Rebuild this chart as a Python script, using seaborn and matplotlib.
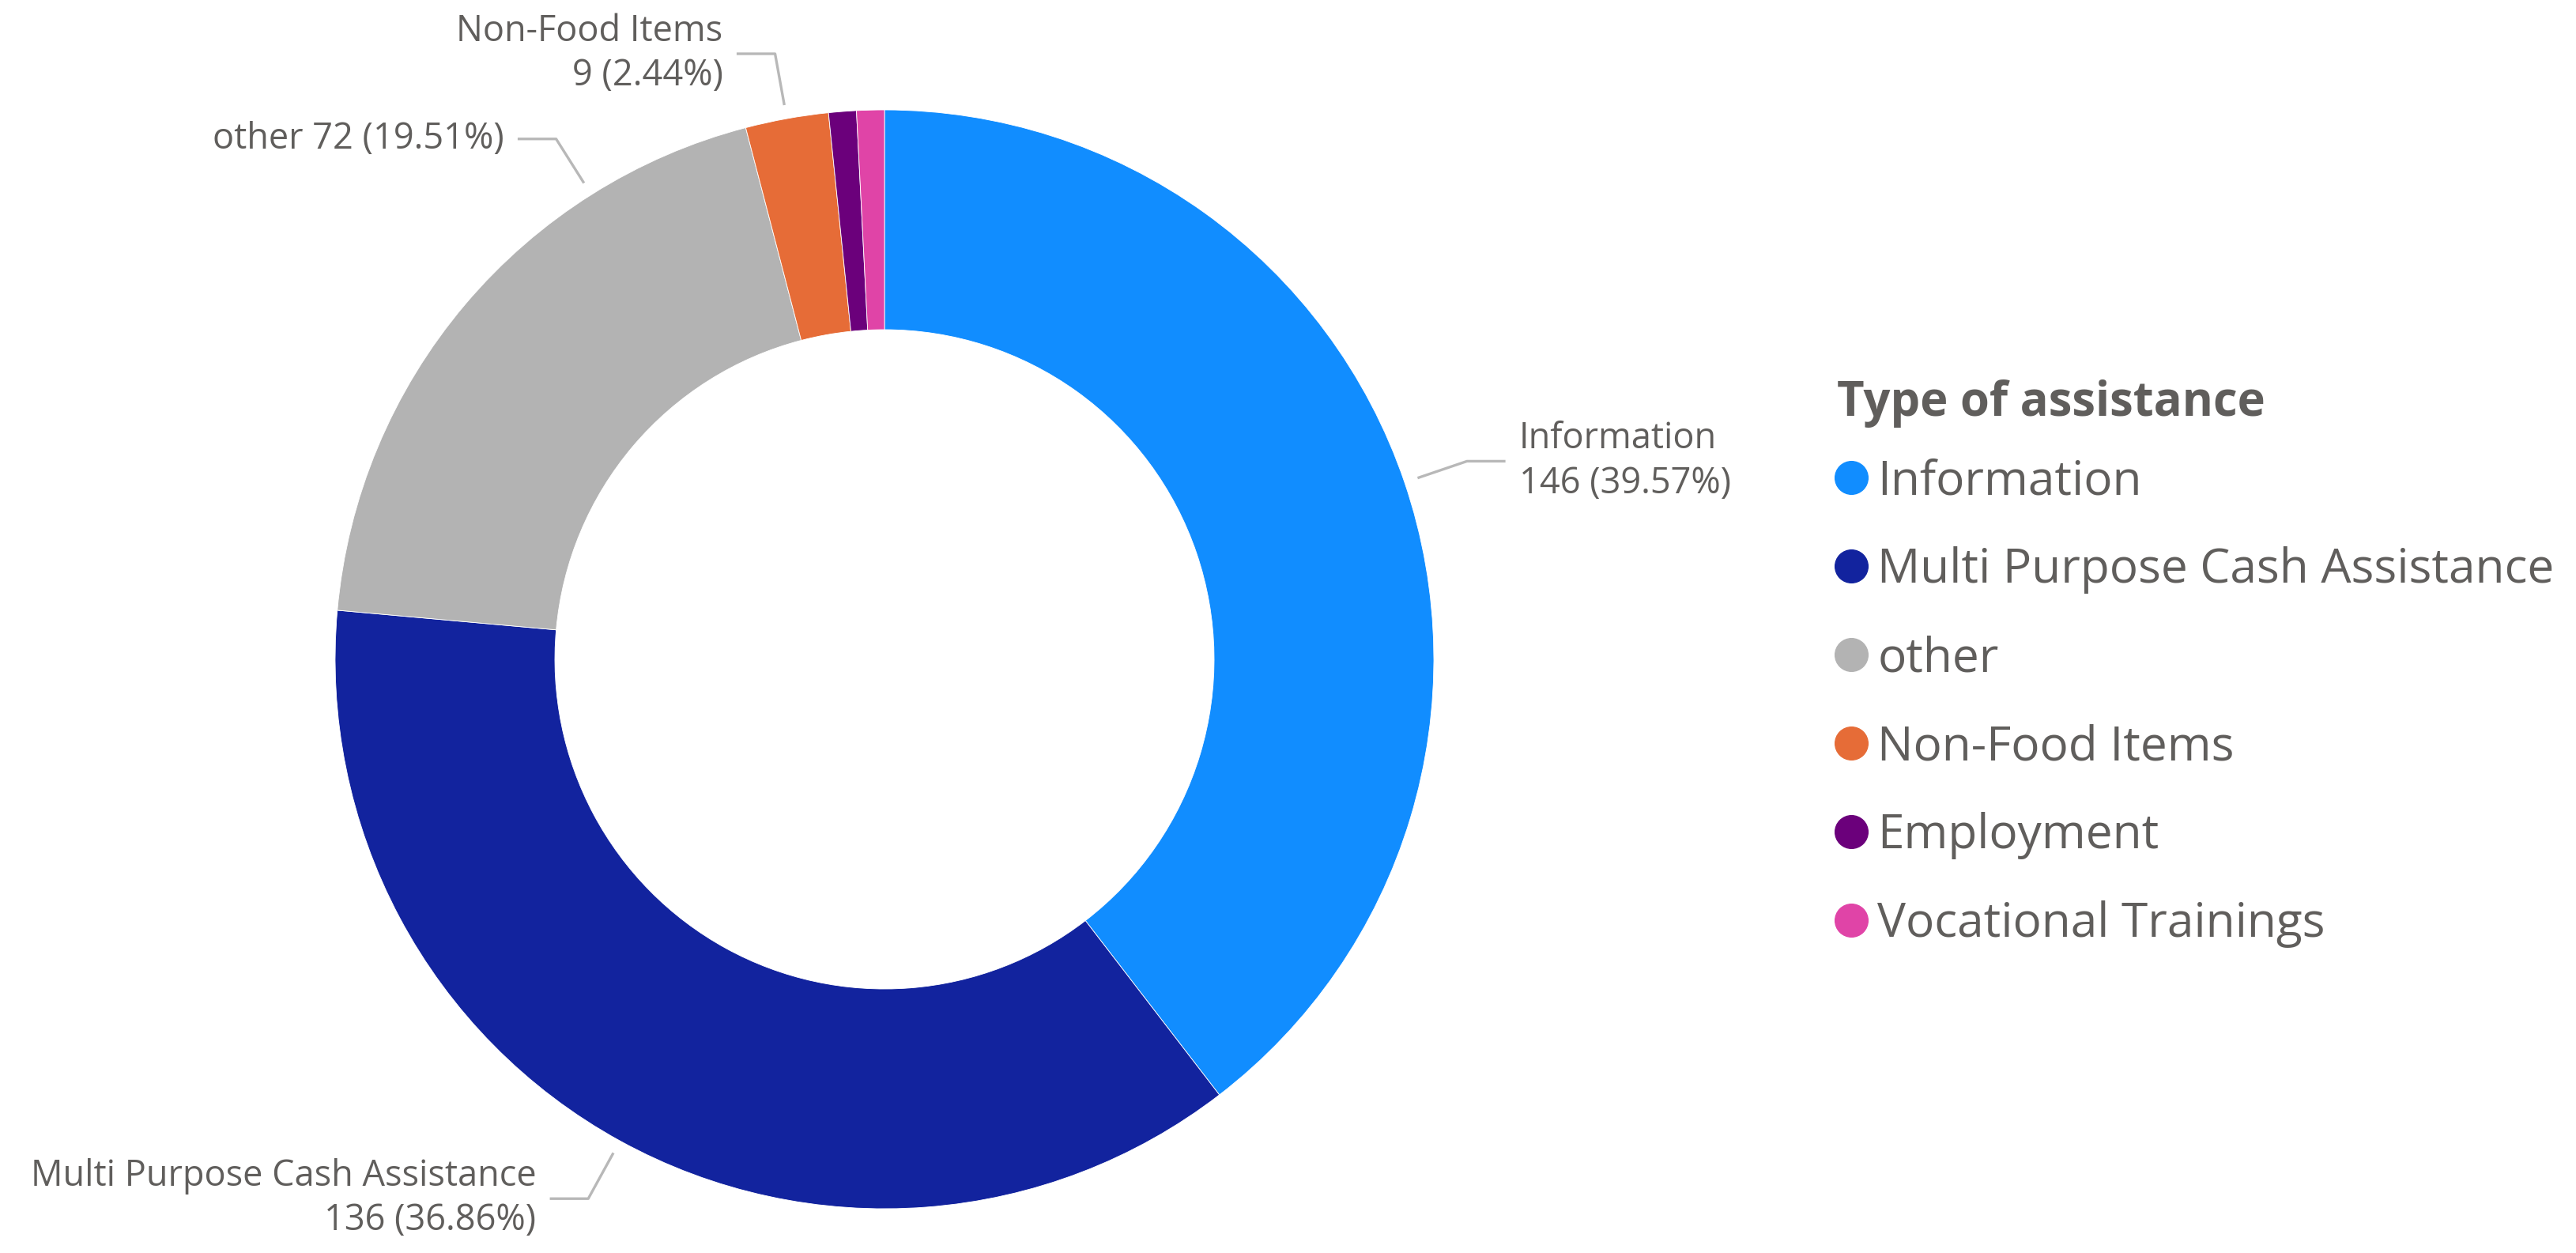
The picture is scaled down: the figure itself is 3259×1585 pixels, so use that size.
import numpy as np
import matplotlib
matplotlib.use("Agg")
import matplotlib.pyplot as plt
from matplotlib.lines import Line2D
import seaborn as sns

# ---- data ----
categories = ["Information", "Multi Purpose Cash Assistance", "other",
              "Non-Food Items", "Employment", "Vocational Trainings"]
counts = [146, 136, 72, 9, 3, 3]
colors = ["#118DFF", "#12239E", "#B3B3B3", "#E66C37", "#6B007B", "#E044A7"]
legend_title = "Type of assistance"

# which slices get an outside label, and their style
label_slices = [0, 1, 2, 3]
label_two_lines = [True, True, False, True]
label_angle_shift = [0.0, 0.0, -17.5, 0.0]   # leader anchor offset (deg)

sns.set_theme(style="white")
FONT = ["Open Sans", "DejaVu Sans"]
plt.rcParams["font.family"] = FONT
TXT = "#605E5C"
LINE = "#B8B8B8"

W, H, DPI = 3259, 1585, 100
fig = plt.figure(figsize=(W / DPI, H / DPI), dpi=DPI)
fig.patch.set_facecolor("white")

cx, cy, R = 1119, 834, 695          # centre measured from the top edge
ax = fig.add_axes([(cx - R) / W, (H - cy - R) / H, 2 * R / W, 2 * R / H])

palette = sns.color_palette(colors)
wedges, _ = ax.pie(counts, colors=palette, startangle=90, counterclock=False,
                   radius=1.0, wedgeprops=dict(width=0.4, edgecolor="white",
                                               linewidth=0.6))
ax.set_xlim(-1, 1)
ax.set_ylim(-1, 1)
ax.set_aspect("equal")
ax.axis("off")

total = sum(counts)
for k, i in enumerate(label_slices):
    w = wedges[i]
    ang = np.deg2rad((w.theta1 + w.theta2) / 2 + label_angle_shift[k])
    c, s = np.cos(ang), np.sin(ang)
    p0 = (1.025 * c, 1.025 * s)
    p1 = (1.12 * c, 1.12 * s)
    right = c > 0
    dx = 0.07 if right else -0.07
    p2 = (p1[0] + dx, p1[1])
    ax.plot([p0[0], p1[0], p2[0]], [p0[1], p1[1], p2[1]], color=LINE,
            lw=2.4, solid_capstyle="butt", clip_on=False)
    pct = counts[i] / total * 100
    if label_two_lines[k]:
        txt = f"{categories[i]}\n{counts[i]} ({pct:.2f}%)"
    else:
        txt = f"{categories[i]} {counts[i]} ({pct:.2f}%)"
    tx = p2[0] + (0.025 if right else -0.025)
    ax.text(tx, p2[1], txt, ha="left" if right else "right", va="center",
            multialignment="left" if right else "right",
            fontsize=32.5, color=TXT, linespacing=1.3, clip_on=False)

handles = [Line2D([0], [0], marker="o", linestyle="none", markersize=30,
                  markerfacecolor=col, markeredgecolor=col) for col in palette]
leg = fig.legend(handles, categories, loc="upper left",
                 bbox_to_anchor=(2324 / W, 1 - 480 / H), frameon=False,
                 title=legend_title, alignment="left",
                 title_fontproperties=dict(family=FONT, weight="bold", size=43),
                 prop=dict(family=FONT, size=43.5), labelcolor=TXT,
                 handlelength=0.6, handletextpad=0.25, labelspacing=0.86,
                 borderaxespad=0, borderpad=0)
leg.get_title().set_color(TXT)
# tighter gap between the title and the first entry
leg._legend_box.sep = 27.5

fig.savefig("out.png", dpi=DPI, facecolor="white")
